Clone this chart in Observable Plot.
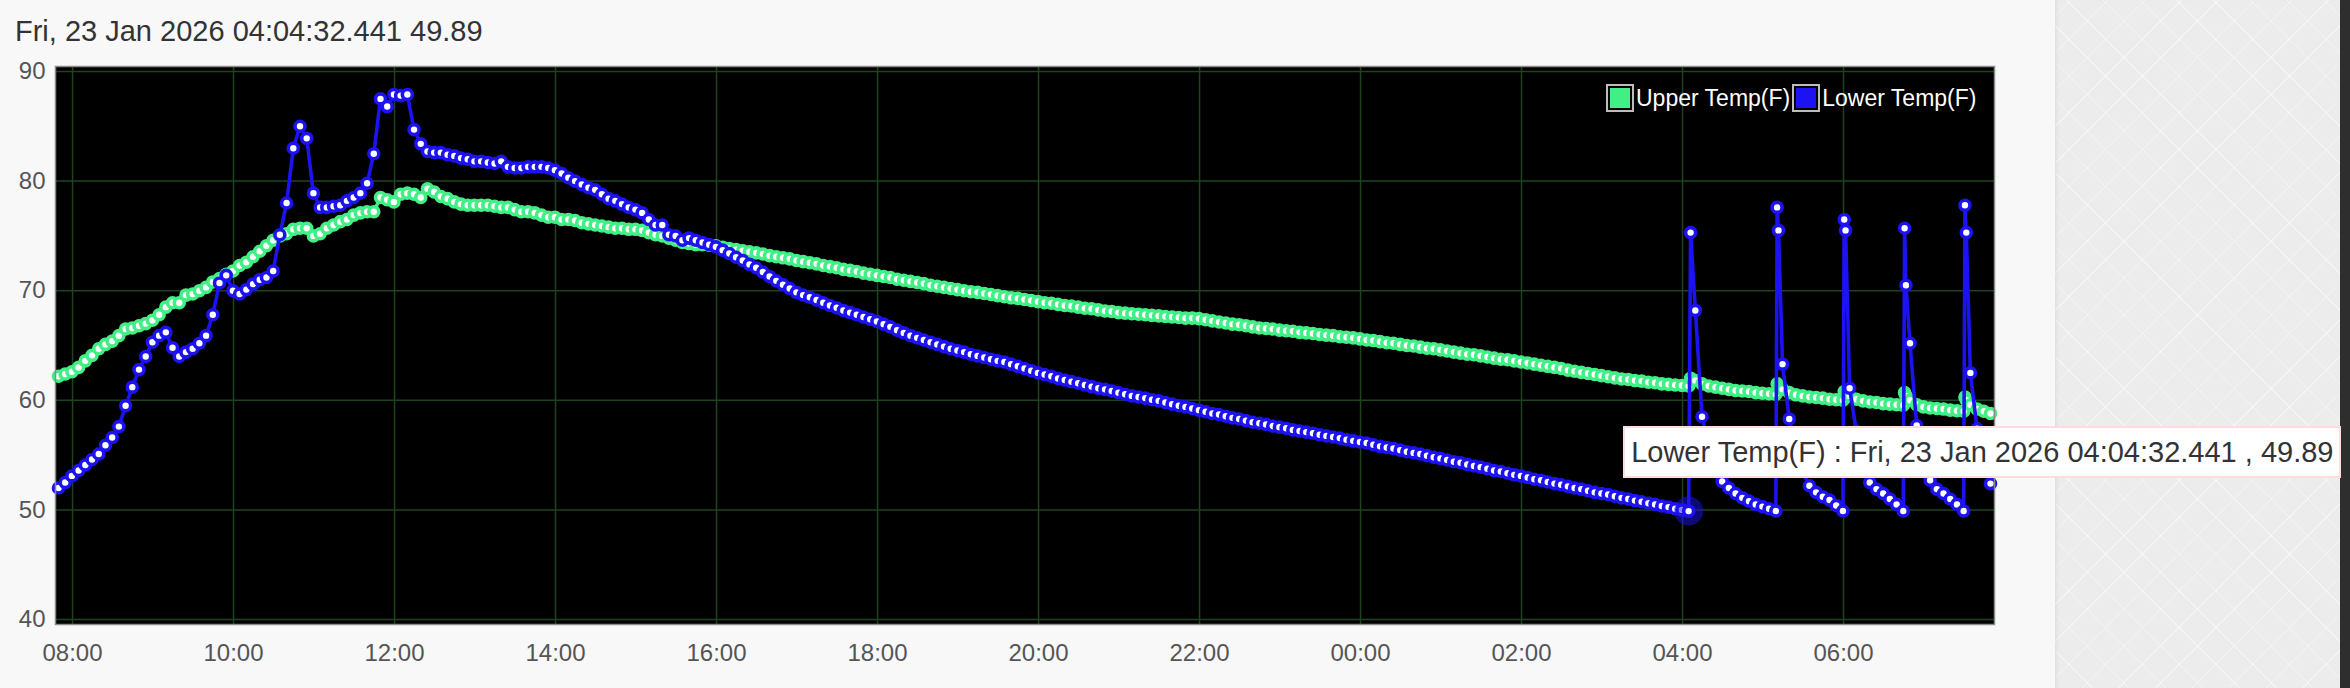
<!DOCTYPE html>
<html>
<head>
<meta charset="utf-8">
<script src="https://cdn.jsdelivr.net/npm/d3@7"></script>
<script src="https://cdn.jsdelivr.net/npm/@observablehq/plot@0.6"></script>
<style>
  html, body { margin: 0; padding: 0; background: #f8f8f8; }
  #page { position: relative; width: 2350px; height: 688px; overflow: hidden; background: #f8f8f8; font-family: "Liberation Sans", Arial, Helvetica, sans-serif; }
  #title { position: absolute; left: 15px; top: 17px; font-size: 29px; line-height: 29px; color: #333; white-space: nowrap; }
  #chart { position: absolute; left: 0; top: 50px; }
  #side { position: absolute; left: 2055px; top: 0; width: 285px; height: 688px; background-color: #ececec;
    background-image: repeating-linear-gradient(45deg, rgba(255,255,255,0.45) 0 1px, transparent 1px 26px),
                      repeating-linear-gradient(-45deg, rgba(255,255,255,0.45) 0 1px, transparent 1px 26px);
    box-shadow: inset 4px 0 5px -3px rgba(0,0,0,0.08); }
  #dark { position: absolute; left: 2340px; top: 0; width: 10px; height: 688px; background: #2e2e2e; }
  #legend { position: absolute; display: flex; align-items: center; font-size: 23px; color: #fff; white-space: nowrap; }
  #legend .sw { border: 2px solid #bdbdbd; padding: 2px; margin-right: 2px; }
  #legend .sw div { width: 20px; height: 20px; }
  #legend .lab { margin-right: 2px; }
  #tip { position: absolute; background: #fff; border: 2px solid #fdd; padding: 7px 6px; font-size: 29px; line-height: 34px; color: #333; white-space: nowrap; }
</style>
</head>
<body>
<div id="page">
  <div id="side"></div>
  <div id="dark"></div>
  <div id="title"></div>
  <div id="chart"></div>
  <div id="legend"></div>
  <div id="tip"></div>
</div>
<script>
// ---- data ----
const seriesNames = ["Upper Temp(F)", "Lower Temp(F)"];
const seriesColors = ["#40f085", "#1c12f2"];
const yTicks = [40, 50, 60, 70, 80, 90];
const startDate = [2026, 0, 22];
const hoverStamp = "Fri, 23 Jan 2026 04:04:32.441";
const hoverTime = "04:04:32";

const times = [
"07:49:32","07:54:32","07:59:32",
"08:04:32","08:09:32","08:14:32","08:19:32","08:24:32","08:29:32","08:34:32","08:39:32","08:44:32","08:49:32","08:54:32","08:59:32",
"09:04:32","09:09:32","09:14:32","09:19:32","09:24:32","09:29:32","09:34:32","09:39:32","09:44:32","09:49:32","09:54:32","09:59:32",
"10:04:32","10:09:32","10:14:32","10:19:32","10:24:32","10:29:32","10:34:32","10:39:32","10:44:32","10:49:32","10:54:32","10:59:32",
"11:04:32","11:09:32","11:14:32","11:19:32","11:24:32","11:29:32","11:34:32","11:39:32","11:44:32","11:49:32","11:54:32","11:59:32",
"12:04:32","12:09:32","12:14:32","12:19:32","12:24:32","12:29:32","12:34:32","12:39:32","12:44:32","12:49:32","12:54:32","12:59:32",
"13:04:32","13:09:32","13:14:32","13:19:32","13:24:32","13:29:32","13:34:32","13:39:32","13:44:32","13:49:32","13:54:32","13:59:32",
"14:04:32","14:09:32","14:14:32","14:19:32","14:24:32","14:29:32","14:34:32","14:39:32","14:44:32","14:49:32","14:54:32","14:59:32",
"15:04:32","15:09:32","15:14:32","15:19:32","15:24:32","15:29:32","15:34:32","15:39:32","15:44:32","15:49:32","15:54:32","15:59:32",
"16:04:32","16:09:32","16:14:32","16:19:32","16:24:32","16:29:32","16:34:32","16:39:32","16:44:32","16:49:32","16:54:32","16:59:32",
"17:04:32","17:09:32","17:14:32","17:19:32","17:24:32","17:29:32","17:34:32","17:39:32","17:44:32","17:49:32","17:54:32","17:59:32",
"18:04:32","18:09:32","18:14:32","18:19:32","18:24:32","18:29:32","18:34:32","18:39:32","18:44:32","18:49:32","18:54:32","18:59:32",
"19:04:32","19:09:32","19:14:32","19:19:32","19:24:32","19:29:32","19:34:32","19:39:32","19:44:32","19:49:32","19:54:32","19:59:32",
"20:04:32","20:09:32","20:14:32","20:19:32","20:24:32","20:29:32","20:34:32","20:39:32","20:44:32","20:49:32","20:54:32","20:59:32",
"21:04:32","21:09:32","21:14:32","21:19:32","21:24:32","21:29:32","21:34:32","21:39:32","21:44:32","21:49:32","21:54:32","21:59:32",
"22:04:32","22:09:32","22:14:32","22:19:32","22:24:32","22:29:32","22:34:32","22:39:32","22:44:32","22:49:32","22:54:32","22:59:32",
"23:04:32","23:09:32","23:14:32","23:19:32","23:24:32","23:29:32","23:34:32","23:39:32","23:44:32","23:49:32","23:54:32","23:59:32",
"00:04:32","00:09:32","00:14:32","00:19:32","00:24:32","00:29:32","00:34:32","00:39:32","00:44:32","00:49:32","00:54:32","00:59:32",
"01:04:32","01:09:32","01:14:32","01:19:32","01:24:32","01:29:32","01:34:32","01:39:32","01:44:32","01:49:32","01:54:32","01:59:32",
"02:04:32","02:09:32","02:14:32","02:19:32","02:24:32","02:29:32","02:34:32","02:39:32","02:44:32","02:49:32","02:54:32","02:59:32",
"03:04:32","03:09:32","03:14:32","03:19:32","03:24:32","03:29:32","03:34:32","03:39:32","03:44:32","03:49:32","03:54:32","03:59:32",
"04:04:32","04:06:00","04:09:32","04:14:32","04:19:32","04:24:32","04:29:32","04:34:32","04:39:32","04:44:32","04:49:32","04:54:32","04:59:32",
"05:04:32","05:09:32","05:10:30","05:11:30","05:14:32","05:19:32","05:24:32","05:29:32","05:34:32","05:39:32","05:44:32","05:49:32","05:54:32","05:59:32",
"06:00:30","06:01:30","06:04:32","06:09:32","06:14:32","06:19:32","06:24:32","06:29:32","06:34:32","06:39:32","06:44:32","06:45:30","06:46:30","06:49:32","06:54:32","06:59:32",
"07:04:32","07:09:32","07:14:32","07:19:32","07:24:32","07:29:32","07:30:30","07:31:30","07:34:32","07:39:32","07:44:32","07:49:32"
];

const upper = [
62.2,62.4,62.6,
63.0,63.6,64.1,64.7,65.1,65.4,65.9,66.5,66.6,66.8,67.0,67.3,
67.8,68.5,68.9,68.9,69.6,69.7,70.0,70.3,70.8,71.1,71.5,71.8,
72.3,72.6,73.1,73.6,74.1,74.6,75.0,75.2,75.6,75.7,75.7,75.0,
75.2,75.7,76.0,76.3,76.5,76.9,77.1,77.2,77.2,78.5,78.3,78.1,
78.8,78.9,78.8,78.5,79.3,79.0,78.6,78.4,78.1,77.9,77.8,77.8,
77.8,77.8,77.7,77.6,77.6,77.4,77.2,77.2,77.1,76.9,76.7,76.7,
76.5,76.5,76.4,76.2,76.1,76.0,75.9,75.8,75.7,75.7,75.6,75.6,
75.5,75.3,75.1,75.0,74.8,74.6,74.4,74.3,74.2,74.2,74.15,74.1,
73.95,73.85,73.75,73.65,73.55,73.45,73.35,73.2,73.1,73.0,72.9,72.75,
72.65,72.55,72.45,72.3,72.2,72.1,71.95,71.85,71.75,71.6,71.5,71.4,
71.3,71.2,71.05,70.95,70.85,70.75,70.65,70.5,70.4,70.3,70.2,70.1,
70.0,69.9,69.85,69.75,69.65,69.55,69.45,69.35,69.3,69.2,69.1,69.0,
68.9,68.85,68.75,68.65,68.6,68.5,68.4,68.35,68.25,68.15,68.1,68.0,
67.95,67.9,67.85,67.8,67.75,67.7,67.65,67.6,67.55,67.5,67.5,67.45,
67.35,67.25,67.15,67.05,66.95,66.9,66.8,66.7,66.6,66.55,66.5,66.4,
66.35,66.3,66.2,66.15,66.1,66.0,65.95,65.9,65.8,65.75,65.7,65.6,
65.5,65.45,65.35,65.25,65.2,65.1,65.0,64.95,64.85,64.75,64.7,64.6,
64.5,64.4,64.3,64.2,64.15,64.05,63.95,63.85,63.75,63.7,63.6,63.5,
63.4,63.3,63.2,63.1,63.0,62.9,62.75,62.65,62.55,62.45,62.35,62.25,
62.15,62.05,61.95,61.9,61.8,61.75,61.65,61.6,61.5,61.45,61.4,61.35,
61.3,62.0,61.8,61.5,61.3,61.2,61.1,61.0,60.9,60.85,60.8,60.7,60.65,
60.6,60.55,61.5,61.2,61.0,60.7,60.5,60.4,60.3,60.25,60.2,60.1,60.05,60.0,
60.8,60.6,60.4,60.1,59.95,59.85,59.8,59.7,59.65,59.6,59.55,60.7,60.4,60.0,59.6,59.4,
59.3,59.25,59.2,59.1,59.05,59.0,60.3,60.0,59.6,59.2,59.0,58.8
];

const lower = [
52.0,52.5,53.1,
53.6,54.1,54.6,55.1,55.9,56.6,57.6,59.5,61.2,62.8,64.0,65.3,
65.9,66.2,64.8,64.0,64.4,64.7,65.2,65.9,67.8,70.7,71.4,70.0,
69.7,70.1,70.6,71.0,71.2,71.8,75.1,78.0,83.0,85.0,83.9,78.9,
77.6,77.6,77.7,77.8,78.2,78.5,78.9,79.8,82.5,87.5,86.8,87.9,
87.8,87.9,84.7,83.4,82.7,82.6,82.6,82.4,82.3,82.1,82.0,81.8,
81.8,81.7,81.6,81.8,81.3,81.2,81.2,81.3,81.3,81.3,81.2,81.0,
80.7,80.3,80.0,79.7,79.4,79.2,78.8,78.4,78.2,77.9,77.6,77.4,
77.1,76.5,76.0,76.0,75.1,75.0,74.6,74.8,74.6,74.4,74.2,74.0,
73.7,73.4,73.05,72.75,72.4,72.1,71.7,71.3,70.9,70.55,70.2,69.85,
69.6,69.4,69.15,68.9,68.65,68.45,68.2,68.0,67.8,67.6,67.4,67.2,
66.95,66.7,66.4,66.15,65.9,65.7,65.5,65.3,65.1,64.9,64.7,64.55,
64.4,64.2,64.05,63.9,63.75,63.6,63.5,63.3,63.1,62.9,62.7,62.5,
62.35,62.2,62.0,61.85,61.7,61.55,61.4,61.25,61.1,61.0,60.85,60.7,
60.55,60.4,60.3,60.2,60.05,59.95,59.8,59.65,59.5,59.4,59.25,59.1,
58.95,58.8,58.7,58.55,58.4,58.3,58.15,58.0,57.9,57.8,57.65,57.55,
57.45,57.3,57.2,57.1,57.0,56.85,56.75,56.65,56.55,56.4,56.3,56.2,
56.1,55.95,55.8,55.7,55.6,55.45,55.3,55.2,55.1,54.95,54.8,54.7,
54.55,54.4,54.3,54.15,54.0,53.9,53.75,53.6,53.5,53.35,53.2,53.1,
52.95,52.8,52.7,52.55,52.4,52.3,52.15,52.0,51.9,51.75,51.6,51.5,
51.4,51.25,51.1,51.0,50.85,50.75,50.6,50.5,50.35,50.25,50.1,50.0,
49.89,75.3,68.2,58.5,55.8,53.8,52.6,52.0,51.5,51.1,50.8,50.5,50.3,
50.1,49.9,77.6,75.5,63.3,58.3,55.4,53.5,52.2,51.6,51.2,50.9,50.4,49.9,
76.5,75.5,61.1,57.2,54.6,52.5,51.9,51.5,51.0,50.5,49.9,75.7,70.5,65.2,57.7,54.9,
52.7,51.9,51.5,51.0,50.5,49.9,77.8,75.3,62.5,57.4,54.6,52.4
];

// ---- build rows ----
let day = startDate[2], prev = null;
const rows = times.map((t, i) => {
  if (prev !== null && t < prev) day++;
  prev = t;
  const [h, m, s] = t.split(":").map(Number);
  return { time: new Date(Date.UTC(startDate[0], startDate[1], day, h, m, s)), t, day, upper: upper[i], lower: lower[i] };
});
const hoverRow = rows.find(r => r.t === hoverTime && r.day === startDate[2] + 1);

const gridColor = "#1f431f";
const tickEvery = d3.utcHour.every(2);
const fmt = d3.utcFormat("%H:%M");
const dotR = 5, dotSW = 3.6, lineW = 3.6;

const chart = Plot.plot({
  width: 2050,
  height: 638,
  marginTop: 16,
  marginBottom: 64,
  marginLeft: 55,
  marginRight: 56,
  style: { background: "transparent", fontFamily: "'Liberation Sans', Arial, Helvetica, sans-serif", fontSize: "24px", color: "#555", overflow: "visible" },
  x: { type: "utc", domain: d3.extent(rows, d => d.time), insetLeft: 3, insetRight: 4 },
  y: { domain: [40, 90], insetTop: 5, insetBottom: 5 },
  marks: [
    Plot.frame({ fill: "#000" }),
    Plot.gridX({ ticks: tickEvery, stroke: gridColor, strokeOpacity: 1, strokeWidth: 1.5 }),
    Plot.gridY({ ticks: yTicks, stroke: gridColor, strokeOpacity: 1, strokeWidth: 1.5 }),
    Plot.axisX({ ticks: tickEvery, tickFormat: fmt, tickSize: 0, tickPadding: 19, fontSize: 24 }),
    Plot.axisY({ ticks: yTicks, tickSize: 0, tickPadding: 10, fontSize: 24 }),
    Plot.line(rows, { x: "time", y: "upper", stroke: seriesColors[0], strokeWidth: lineW }),
    Plot.dot(rows, { x: "time", y: "upper", r: dotR, fill: "#fff", stroke: seriesColors[0], strokeWidth: dotSW }),
    Plot.line(rows, { x: "time", y: "lower", stroke: seriesColors[1], strokeWidth: lineW }),
    Plot.dot(rows, { x: "time", y: "lower", r: dotR, fill: "#fff", stroke: seriesColors[1], strokeWidth: dotSW }),
    Plot.dot([hoverRow], { x: "time", y: "lower", r: 10, fill: "none", stroke: seriesColors[1], strokeOpacity: 0.5, strokeWidth: 9 }),
    Plot.frame({ stroke: "#8a8a8a", strokeWidth: 1.5 })
  ]
});
document.getElementById("chart").appendChild(chart);

// title (hovered value)
document.getElementById("title").textContent = hoverStamp + " " + hoverRow.lower;

// legend
const legend = document.getElementById("legend");
seriesNames.forEach((name, i) => {
  const sw = document.createElement("div");
  sw.className = "sw";
  const inner = document.createElement("div");
  inner.style.background = seriesColors[i];
  sw.appendChild(inner);
  const lab = document.createElement("span");
  lab.className = "lab";
  lab.textContent = name;
  legend.appendChild(sw);
  legend.appendChild(lab);
});
const chartTop = 50;
const plotRight = 2050 - 56;
legend.style.top = (chartTop + 16 + 18) + "px";
legend.style.left = (plotRight - 16 - legend.offsetWidth) + "px";

// tooltip near hovered point, positioned through the plot's scales
const sx = chart.scale("x"), sy = chart.scale("y");
const px = sx.apply(hoverRow.time), py = chartTop + sy.apply(hoverRow.lower);
const tip = document.getElementById("tip");
tip.textContent = seriesNames[1] + " : " + hoverStamp + " , " + hoverRow.lower;
tip.style.left = (px - 65) + "px";
tip.style.top = (py - 85) + "px";
</script>
</body>
</html>
